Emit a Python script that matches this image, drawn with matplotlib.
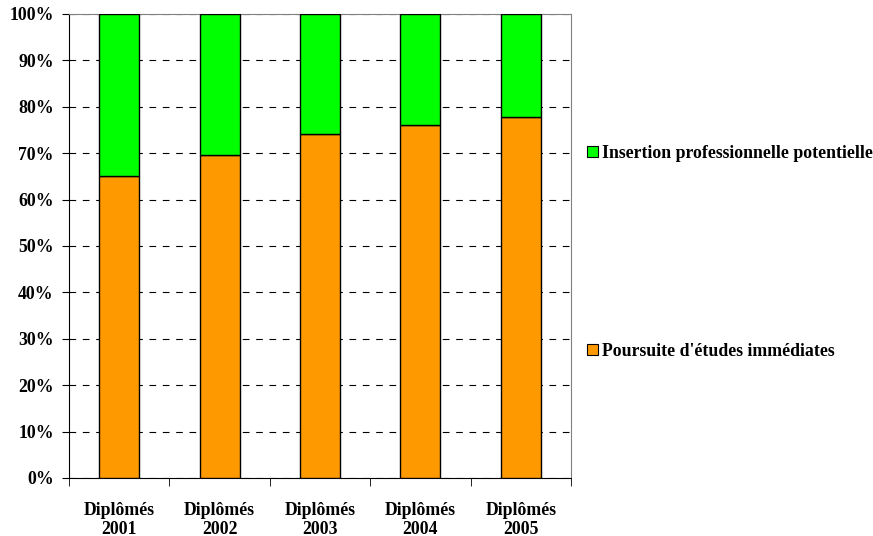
import matplotlib
matplotlib.use("Agg")
import matplotlib.pyplot as plt
from matplotlib.patches import Patch
from matplotlib.ticker import FuncFormatter, MultipleLocator

categories = ["Diplômés\n2001", "Diplômés\n2002", "Diplômés\n2003", "Diplômés\n2004", "Diplômés\n2005"]
poursuite = [65.1, 69.7, 74.1, 76.0, 77.8]
insertion = [100 - v for v in poursuite]
series_names = ["Insertion professionnelle potentielle", "Poursuite d'études immédiates"]

plt.rcParams['font.family'] = ['Liberation Serif', 'DejaVu Serif']
plt.rcParams['font.weight'] = 'bold'

FS = 12.8

fig = plt.figure(figsize=(8.73, 5.36), dpi=100)
ax = fig.add_axes([69/873, 1 - 478/536, (571-69)/873, (478-14)/536])

x = list(range(len(categories)))
ax.bar(x, poursuite, width=0.4, color='#FF9900', edgecolor='black', linewidth=1, zorder=3)
ax.bar(x, insertion, bottom=poursuite, width=0.4, color='#00FF00', edgecolor='black', linewidth=1, zorder=3)

ax.set_xlim(-0.5, len(categories) - 0.5)
ax.set_ylim(0, 100)
ax.yaxis.set_major_locator(MultipleLocator(10))
ax.yaxis.set_major_formatter(FuncFormatter(lambda v, p: f"{int(v)}%"))
ax.set_xticks(x)
ax.set_xticklabels(categories, fontsize=FS, fontweight='bold', linespacing=1.15)
ax.tick_params(axis='x', length=0, pad=17)
ax.set_xticks([i - 0.5 for i in range(len(categories) + 1)], minor=True)
ax.tick_params(axis='x', which='minor', length=6, direction='out', color='black')
ax.tick_params(axis='y', length=5, direction='out', labelsize=FS, color='black', pad=6)
for lbl in ax.get_yticklabels():
    lbl.set_fontweight('bold')

ax.yaxis.grid(True, color='black', linestyle=(0, (6, 6)), linewidth=0.8, zorder=0)
ax.set_axisbelow(True)
ax.spines['left'].set_color('black')
ax.spines['bottom'].set_color('black')
ax.spines['top'].set_color('#808080')
ax.spines['right'].set_color('#808080')

h1 = Patch(facecolor='#00FF00', edgecolor='black', linewidth=0.8)
h2 = Patch(facecolor='#FF9900', edgecolor='black', linewidth=0.8)
fig.legend([h1], [series_names[0]], loc='center left', bbox_to_anchor=(582/873, 1 - 153/536),
           frameon=False, handlelength=0.6, handleheight=0.6, handletextpad=0.25,
           prop={'weight': 'bold', 'size': FS}, borderaxespad=0, borderpad=0.3)
fig.legend([h2], [series_names[1]], loc='center left', bbox_to_anchor=(582/873, 1 - 351/536),
           frameon=False, handlelength=0.6, handleheight=0.6, handletextpad=0.25,
           prop={'weight': 'bold', 'size': FS}, borderaxespad=0, borderpad=0.3)

fig.savefig("out.png", dpi=100)
